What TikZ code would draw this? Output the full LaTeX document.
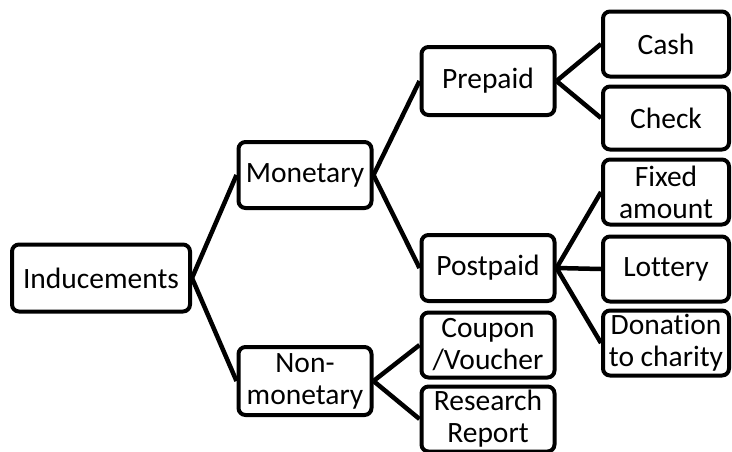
\documentclass[tikz,border=0pt]{standalone}
\usepackage{fontspec}
\setmainfont{Carlito}[Ligatures=NoCommon]

\begin{document}
\begin{tikzpicture}[x=1pt, y=-1pt,
    box/.style={draw, line width=4pt, rounded corners=7pt, align=center,
      inner sep=0pt, font=\fontsize{29.5}{32}\selectfont},
    leaf/.style={box, minimum width=126pt, minimum height=65pt},
    mid/.style={box, minimum width=133pt, minimum height=66pt},
    link/.style={line width=4.5pt}]
  \useasboundingbox (0,0) rectangle (732,451);

  % root and first level
  \node[box, minimum width=178pt, minimum height=67pt] (ind) at (101,278) {Inducements};
  \node[mid] (mon) at (305,175) {Monetary};
  \node[mid, minimum height=68pt] (non) at (305,381) {Non-\\monetary};

  % second level
  \node[mid, minimum height=68pt] (pre) at (488,81) {Prepaid};
  \node[mid] (post) at (488,268) {Postpaid};
  \node[mid, minimum height=65pt] (coup) at (488,345) {Coupon\\/Voucher};
  \node[mid, minimum height=65pt] (rep) at (488,419) {Research\\Report};

  % leaves
  \node[leaf] (cash) at (666,44) {Cash};
  \node[leaf, minimum height=63pt] (check) at (666,118) {Check};
  \node[leaf] (fix) at (666,192) {Fixed\\amount};
  \node[leaf] (lot) at (666,269) {Lottery};
  \node[leaf] (don) at (666,343) {Donation\\to charity};

  \draw[link] (ind.east) -- (mon.west) (ind.east) -- (non.west);
  \draw[link] (mon.east) -- (pre.west) (mon.east) -- (post.west);
  \draw[link] (non.east) -- (coup.west) (non.east) -- (rep.west);
  \draw[link] (pre.east) -- (cash.west) (pre.east) -- (check.west);
  \draw[link] (post.east) -- (fix.west) (post.east) -- (lot.west)
    (post.east) -- (don.west);
\end{tikzpicture}
\end{document}
